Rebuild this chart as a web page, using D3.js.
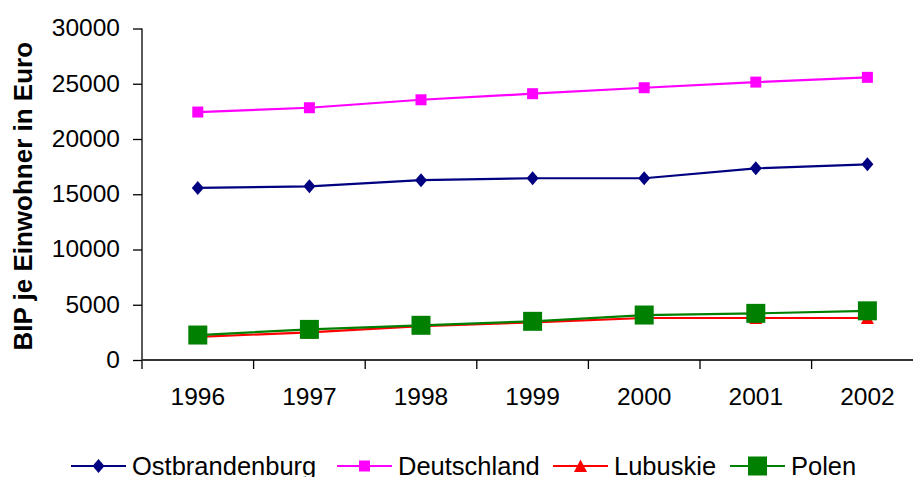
<!DOCTYPE html>
<html>
<head>
<meta charset="utf-8">
<script src="https://cdn.jsdelivr.net/npm/d3@7"></script>
<style>
  body { margin: 0; background: #fff; }
  svg { display: block; font-family: "Liberation Sans", Arial, sans-serif; }
</style>
</head>
<body>
<div id="chart"></div>
<script>
var years = ["1996", "1997", "1998", "1999", "2000", "2001", "2002"];
var ostbrandenburg = [15570, 15720, 16270, 16450, 16450, 17350, 17710];
var deutschland = [22440, 22830, 23550, 24100, 24640, 25150, 25580];
var lubuskie = [2100, 2500, 3060, 3400, 3800, 3800, 3800];
var polen = [2260, 2770, 3140, 3500, 4070, 4220, 4450];
var yTicks = [0, 5000, 10000, 15000, 20000, 25000, 30000];

var series = [
  { name: "Ostbrandenburg", values: ostbrandenburg, color: "#000080", marker: "diamond" },
  { name: "Deutschland", values: deutschland, color: "#FF00FF", marker: "square" },
  { name: "Lubuskie", values: lubuskie, color: "#FF0000", marker: "triangle" },
  { name: "Polen", values: polen, color: "#008000", marker: "bigsquare" }
];

var w = 913;
var h = 477;
var plotLeft = 142, plotTop = 28.5, plotBottom = 360;
var bandW = 111.6;
// where each legend entry starts
var legendX = [71, 337, 553, 730];

var svg = d3.select("#chart")
  .append("svg")
  .attr("width", w)
  .attr("height", h);

var x = d3.scaleBand()
  .domain(years)
  .range([plotLeft, plotLeft + bandW * years.length])
  .padding(0);

var y = d3.scaleLinear()
  .domain([0, 30000])
  .range([plotBottom, plotTop]);

// y axis
var yAxis = svg.append("g")
  .attr("transform", "translate(" + plotLeft + ",0)")
  .call(d3.axisLeft(y).tickValues(yTicks).tickSize(9).tickPadding(13).tickFormat(d3.format("d")));
yAxis.select(".domain").remove();
yAxis.selectAll(".tick line").attr("stroke", "#000").attr("stroke-width", 1.3);
yAxis.selectAll(".tick text")
  .attr("font-size", "24.5px")
  .attr("fill", "#000")
  .attr("dy", "0.3em")
  .attr("font-family", "Liberation Sans, Arial, sans-serif");

svg.append("line")
  .attr("x1", plotLeft).attr("x2", plotLeft)
  .attr("y1", plotTop).attr("y2", plotBottom + 9)
  .attr("stroke", "#000").attr("stroke-width", 1.3);

// x axis
svg.append("line")
  .attr("x1", plotLeft).attr("x2", x.range()[1])
  .attr("y1", plotBottom).attr("y2", plotBottom)
  .attr("stroke", "#333").attr("stroke-width", 2);

svg.append("g").selectAll(".xtick")
  .data(years.slice(1))
  .enter()
  .append("line")
  .attr("x1", (d) => x(d)).attr("x2", (d) => x(d))
  .attr("y1", plotBottom).attr("y2", plotBottom + 9)
  .attr("stroke", "#000").attr("stroke-width", 1.3);

svg.append("g").selectAll(".xlabel")
  .data(years)
  .enter()
  .append("text")
  .attr("x", (d) => x(d) + x.bandwidth() / 2)
  .attr("y", 405)
  .attr("text-anchor", "middle")
  .attr("font-size", "24.5px")
  .text((d) => d);

// axis title
svg.append("text")
  .attr("transform", "translate(32," + ((plotTop + plotBottom) / 2 + 2) + ") rotate(-90)")
  .attr("text-anchor", "middle")
  .attr("font-size", "26px")
  .attr("font-weight", "bold")
  .text("BIP je Einwohner in Euro");

function markerPath(type) {
  if (type == "diamond") return "M0,-7L6,0L0,7L-6,0Z";
  if (type == "square") return "M-5.5,-5.5H5.5V5.5H-5.5Z";
  if (type == "triangle") return "M0,-6.5L6.5,6L-6.5,6Z";
  return "M-9.5,-9.5H9.5V9.5H-9.5Z";
}

var cx = (d, i) => x(years[i]) + x.bandwidth() / 2;

var line = d3.line()
  .x(cx)
  .y((d) => y(d));

// lines first, then markers
svg.append("g").selectAll(".series")
  .data(series)
  .enter()
  .append("path")
  .attr("d", (s) => line(s.values))
  .attr("fill", "none")
  .attr("stroke", (s) => s.color)
  .attr("stroke-width", 2.2);

series.forEach(function (s) {
  svg.append("g").selectAll(".marker")
    .data(s.values)
    .enter()
    .append("path")
    .attr("d", markerPath(s.marker))
    .attr("transform", (d, i) => "translate(" + cx(d, i) + "," + y(d) + ")")
    .attr("fill", s.color);
});

// legend
var ly = 466;
var items = svg.append("g").selectAll(".legend")
  .data(series)
  .enter()
  .append("g")
  .attr("transform", (s, i) => "translate(" + legendX[i] + "," + ly + ")");
items.append("line")
  .attr("x1", 0).attr("x2", 55)
  .attr("stroke", (s) => s.color).attr("stroke-width", 2.2);
items.append("path")
  .attr("d", (s) => markerPath(s.marker))
  .attr("transform", "translate(27.5,0)")
  .attr("fill", (s) => s.color);
items.append("text")
  .attr("x", 61)
  .attr("y", 8.5)
  .attr("font-size", "25.5px")
  .text((s) => s.name);
</script>
</body>
</html>
